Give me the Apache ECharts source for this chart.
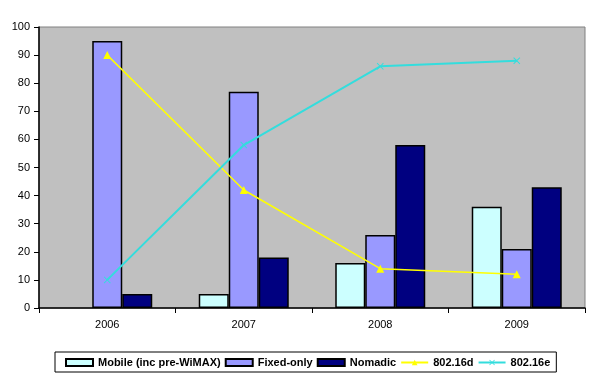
<!DOCTYPE html>
<html><head><meta charset="utf-8">
<script src="https://cdn.jsdelivr.net/npm/echarts@6/dist/echarts.min.js"></script>
<style>html,body{margin:0;padding:0;background:#fff}#c{width:589px;height:373px}</style>
</head><body><div id="c"></div>
<script>
const categories = ['2006', '2007', '2008', '2009'];
const mobile = [null, 5, 16, 36];
const fixedOnly = [95, 77, 26, 21];
const nomadic = [5, 18, 58, 43];
const d80216 = [90, 42, 14, 12];
const e80216 = [10, 58, 86, 88];
const yTicks = [0, 10, 20, 30, 40, 50, 60, 70, 80, 90, 100];

const font = 'Liberation Sans, Arial, sans-serif';
const crossPath = 'path://M0,1L1,0L5,4L9,0L10,1L6,5L10,9L9,10L5,6L1,10L0,9L4,5Z';
const chart = echarts.init(document.getElementById('c'), null, {renderer: 'canvas'});
const barBase = {type: 'bar', barWidth: 30, barGap: '0%'};
chart.setOption({
  animation: false,
  backgroundColor: '#fff',
  grid: {left: 39, right: 4, top: 27, bottom: 65, show: true, backgroundColor: '#c0c0c0', borderColor: '#808080', borderWidth: 1},
  legend: {
    bottom: 1, left: 55,
    borderColor: '#000', borderWidth: 1, padding: [5, 6, 4, 10],
    itemWidth: 27, itemHeight: 7, itemGap: 4,
    textStyle: {fontFamily: font, fontSize: 11, fontWeight: 'bold', color: '#000'},
    data: [
      {name: 'Mobile (inc pre-WiMAX)', icon: 'rect'},
      {name: 'Fixed-only', icon: 'rect'},
      {name: 'Nomadic', icon: 'rect'},
      {name: '802.16d'},
      {name: '802.16e'}
    ]
  },
  xAxis: {
    type: 'category', data: categories, boundaryGap: true,
    axisLine: {lineStyle: {color: '#000', width: 1.5}},
    axisTick: {show: true, length: 5, lineStyle: {color: '#000'}},
    axisLabel: {margin: 11, fontFamily: font, fontSize: 11, color: '#000'}
  },
  yAxis: {
    type: 'value', min: yTicks[0], max: yTicks[yTicks.length - 1], interval: 10,
    splitLine: {show: false},
    axisLine: {show: true, lineStyle: {color: '#000', width: 1.5}},
    axisTick: {show: true, length: 5, lineStyle: {color: '#000'}},
    axisLabel: {margin: 9, fontFamily: font, fontSize: 11, color: '#000'}
  },
  series: [
    Object.assign({}, barBase, {name: 'Mobile (inc pre-WiMAX)', data: mobile, itemStyle: {color: '#ccffff', borderColor: '#000', borderWidth: 1.5}}),
    Object.assign({}, barBase, {name: 'Fixed-only', data: fixedOnly, itemStyle: {color: '#9999ff', borderColor: '#000', borderWidth: 1.5}}),
    Object.assign({}, barBase, {name: 'Nomadic', data: nomadic, itemStyle: {color: '#000080', borderColor: '#000', borderWidth: 1.5}}),
    {name: '802.16d', type: 'line', data: d80216, symbol: 'triangle', symbolSize: 8,
     lineStyle: {color: '#ffff00', width: 1.5}, itemStyle: {color: '#ffff00'}},
    {name: '802.16e', type: 'line', data: e80216, symbol: crossPath, symbolSize: 7,
     lineStyle: {color: '#33dddd', width: 2}, itemStyle: {color: '#33dddd'}}
  ]
});
</script></body></html>
